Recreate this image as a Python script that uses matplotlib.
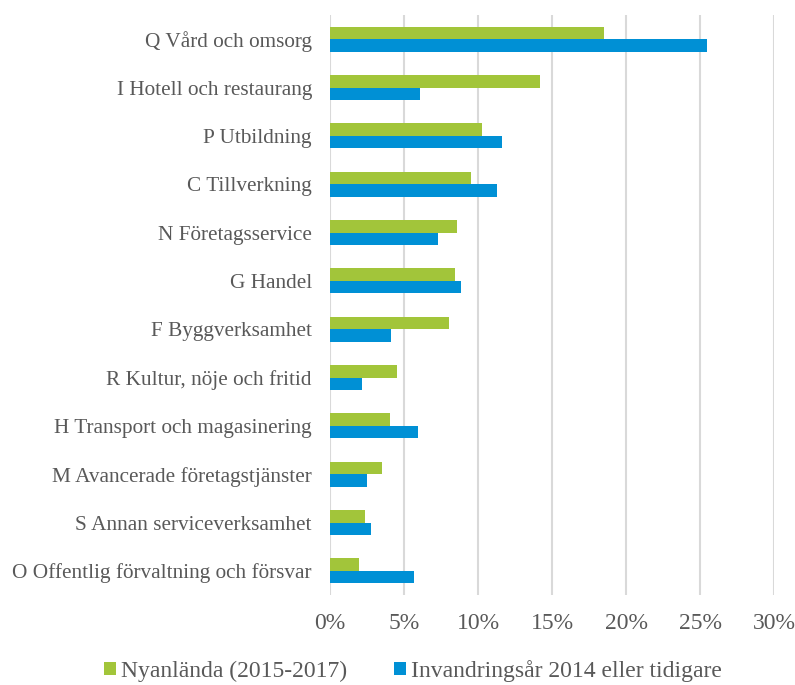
import matplotlib
matplotlib.use("Agg")
import matplotlib.pyplot as plt
import numpy as np
from matplotlib.ticker import PercentFormatter

categories = [
    "Q Vård och omsorg",
    "I Hotell och restaurang",
    "P Utbildning",
    "C Tillverkning",
    "N Företagsservice",
    "G Handel",
    "F Byggverksamhet",
    "R Kultur, nöje och fritid",
    "H Transport och magasinering",
    "M Avancerade företagstjänster",
    "S Annan serviceverksamhet",
    "O Offentlig förvaltning och försvar",
]
nyanlanda = [18.5, 14.2, 10.25, 9.5, 8.6, 8.45, 8.05, 4.5, 4.05, 3.5, 2.35, 1.95]
tidigare = [25.5, 6.1, 11.65, 11.25, 7.3, 8.85, 4.1, 2.15, 5.95, 2.5, 2.8, 5.65]
series_names = ["Nyanlända (2015-2017)", "Invandringsår 2014 eller tidigare"]
xticks = [0, 5, 10, 15, 20, 25, 30]

green = "#A2C53A"
blue = "#0090D5"
text_color = "#595959"

plt.rcParams["font.family"] = ["Liberation Serif", "DejaVu Serif"]

fig = plt.figure(figsize=(7.95, 6.85), dpi=100)
ax = fig.add_axes([330/795, 1-595/685, (774-330)/795, (595-15)/685])

y = np.arange(len(categories))
h = 0.26
ax.barh(y - h/2, nyanlanda, height=h, color=green, label=series_names[0], zorder=3)
ax.barh(y + h/2, tidigare, height=h, color=blue, label=series_names[1], zorder=3)

ax.set_ylim(len(categories) - 0.5, -0.5)
ax.set_xlim(0, 30)
ax.set_yticks(y)
ax.set_yticklabels(categories, fontsize=15.3, color=text_color)
ax.set_xticks(xticks)
ax.xaxis.set_major_formatter(PercentFormatter(decimals=0))
ax.tick_params(axis="x", labelsize=17, colors=text_color, length=0, pad=13)
ax.tick_params(axis="y", length=0, pad=13)
ax.grid(axis="x", color="#D9D9D9", linewidth=1.5, zorder=0)
for s in ax.spines.values():
    s.set_visible(False)

leg = fig.legend(loc="center", bbox_to_anchor=(413/795, 1-671/685), ncol=2, frameon=False,
                 fontsize=17, handlelength=0.5, handleheight=0.5, handletextpad=0.22,
                 columnspacing=2.0, borderpad=0)
for t in leg.get_texts():
    t.set_color(text_color)

fig.savefig("out.png", dpi=100)
